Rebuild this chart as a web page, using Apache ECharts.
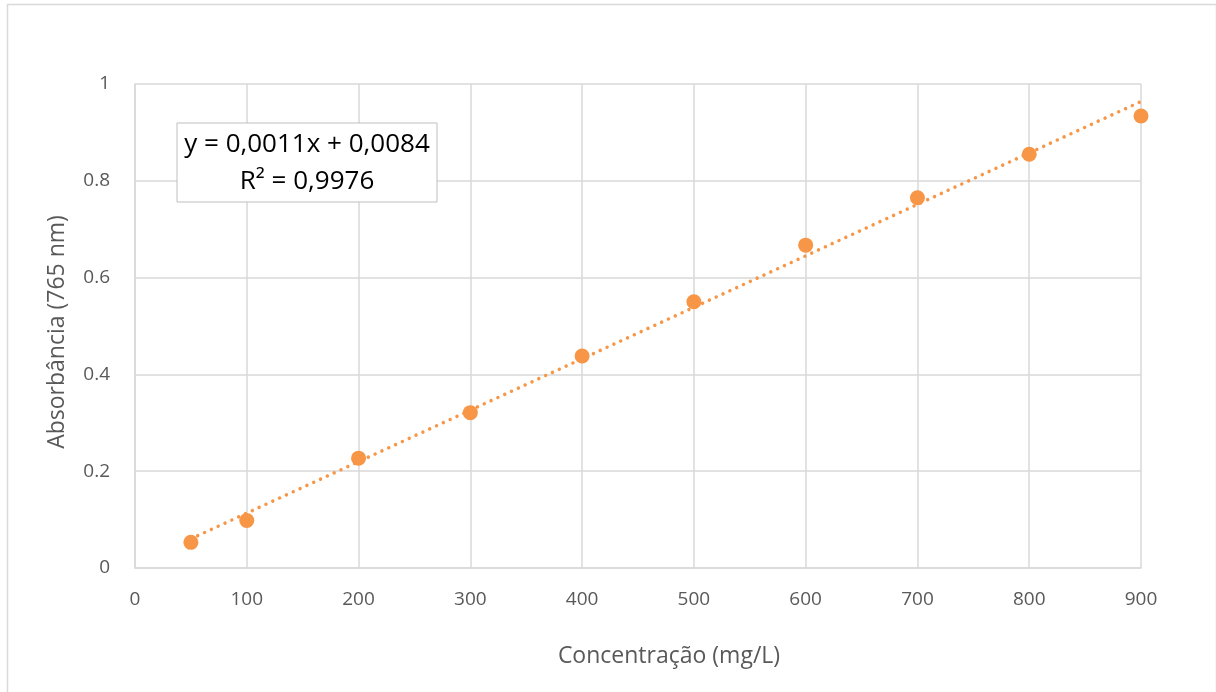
<!DOCTYPE html>
<html>
<head>
<meta charset="utf-8">
<script src="https://cdn.jsdelivr.net/npm/echarts@6/dist/echarts.min.js"></script>
<style>
  html, body { margin: 0; padding: 0; background: #fff; }
  #chart { width: 1216px; height: 692px; }
</style>
</head>
<body>
<div id="chart"></div>
<script>
// Calibration standards: concentration (mg/L) vs absorbance at 765 nm
const concentrations = [50, 100, 200, 300, 400, 500, 600, 700, 800, 900];
const absorbances = [0.053, 0.098, 0.227, 0.321, 0.438, 0.550, 0.667, 0.765, 0.855, 0.934];
const xTicks = { min: 0, max: 900, step: 100 };
const yTicks = { min: 0, max: 1, step: 0.2 };
const equationLines = ['y = 0,0011x + 0,0084', 'R² = 0,9976'];

// Least-squares linear trendline through the standards
function linearFit(xs, ys) {
  const n = xs.length;
  const mx = xs.reduce((a, b) => a + b, 0) / n;
  const my = ys.reduce((a, b) => a + b, 0) / n;
  let sxy = 0, sxx = 0;
  for (let i = 0; i < n; i++) {
    sxy += (xs[i] - mx) * (ys[i] - my);
    sxx += (xs[i] - mx) * (xs[i] - mx);
  }
  const slope = sxy / sxx;
  return { slope, intercept: my - slope * mx };
}
const fit = linearFit(concentrations, absorbances);
const xFirst = concentrations[0];
const xLast = concentrations[concentrations.length - 1];
const trendData = [
  [xFirst, fit.intercept + fit.slope * xFirst],
  [xLast, fit.intercept + fit.slope * xLast]
];

const orange = '#f79646';
const font = 'Open Sans, Noto Sans, sans-serif';
const chart = echarts.init(document.getElementById('chart'), null, { renderer: 'canvas' });

chart.setOption({
  backgroundColor: '#ffffff',
  animation: false,
  grid: { left: 135, right: 75, top: 84, bottom: 124 },
  xAxis: {
    type: 'value',
    min: xTicks.min, max: xTicks.max, interval: xTicks.step,
    axisLine: { show: true, lineStyle: { color: '#d9d9d9', width: 1.5 } },
    axisTick: { show: false },
    splitLine: { show: true, lineStyle: { color: '#d9d9d9', width: 1.5 } },
    axisLabel: { color: '#595959', fontSize: 19, fontFamily: font, margin: 22 }
  },
  yAxis: {
    type: 'value',
    min: yTicks.min, max: yTicks.max, interval: yTicks.step,
    axisLine: { show: true, lineStyle: { color: '#d9d9d9', width: 1.5 } },
    axisTick: { show: false },
    splitLine: { show: true, lineStyle: { color: '#d9d9d9', width: 1.5 } },
    axisLabel: { color: '#595959', fontSize: 19, fontFamily: font, margin: 25 }
  },
  series: [
    {
      type: 'line',
      data: trendData,
      symbol: 'none',
      silent: true,
      lineStyle: { color: orange, width: 3.5, type: [0.01, 7.5], cap: 'round' },
      z: 2
    },
    {
      type: 'scatter',
      data: concentrations.map((c, i) => [c, absorbances[i]]),
      symbol: 'circle',
      symbolSize: 15,
      itemStyle: { color: orange, opacity: 1 },
      z: 3
    }
  ],
  graphic: [
    {
      type: 'rect',
      left: 5, top: 2,
      shape: { width: 1209, height: 700 },
      style: { fill: 'none', stroke: '#d9d9d9', lineWidth: 1.5 },
      silent: true
    },
    {
      type: 'text',
      x: 669, y: 656,
      style: { text: 'Concentração (mg/L)', fill: '#595959', font: '23px ' + font, align: 'center', verticalAlign: 'middle' }
    },
    {
      type: 'text',
      x: 57, y: 332,
      rotation: Math.PI / 2,
      style: { text: 'Absorbância (765 nm)', fill: '#595959', font: '23px ' + font, align: 'center', verticalAlign: 'middle' }
    },
    {
      type: 'group',
      x: 177, y: 123,
      z: 100,
      children: [
        {
          type: 'rect',
          z: 100,
          shape: { x: 0, y: 0, width: 260, height: 79 },
          style: { fill: '#ffffff', stroke: '#bfbfbf', lineWidth: 1 }
        },
        {
          type: 'text',
          z: 101,
          x: 130, y: 22,
          style: { text: equationLines[0], fill: '#000', font: '26px ' + font, align: 'center', verticalAlign: 'middle' }
        },
        {
          type: 'text',
          z: 101,
          x: 130, y: 59,
          style: { text: equationLines[1], fill: '#000', font: '26px ' + font, align: 'center', verticalAlign: 'middle' }
        }
      ]
    }
  ]
});
</script>
</body>
</html>
